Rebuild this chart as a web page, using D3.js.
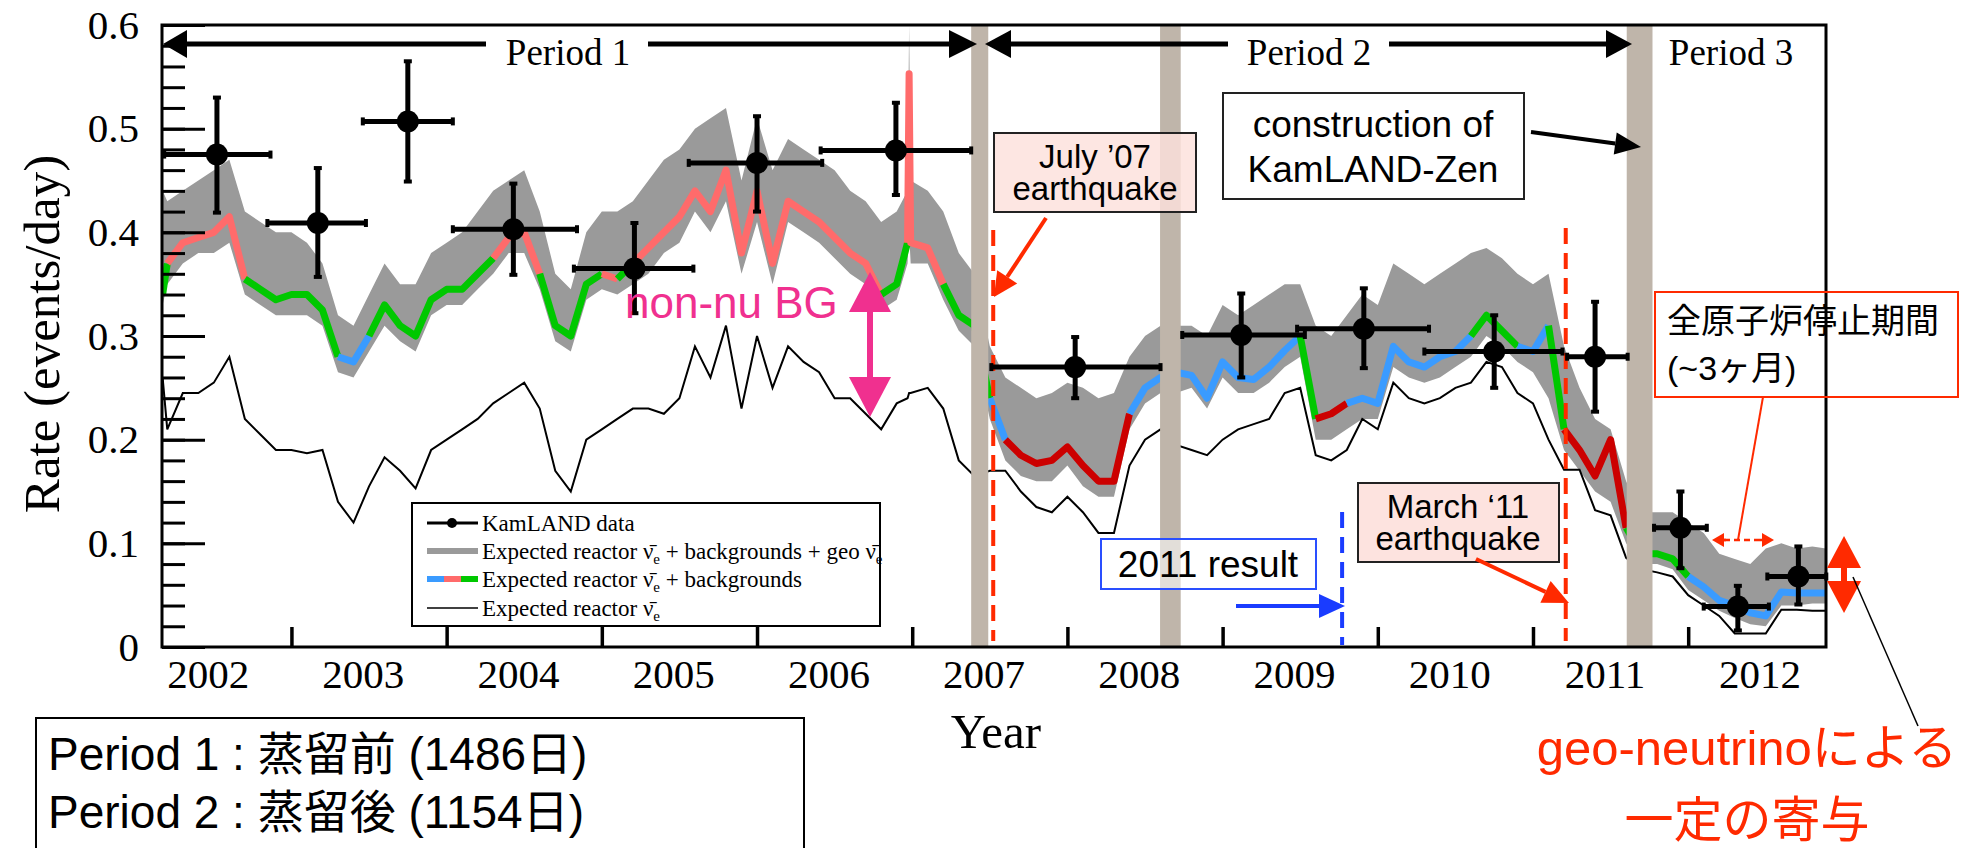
<!DOCTYPE html>
<html>
<head>
<meta charset="utf-8">
<script src="https://cdn.jsdelivr.net/npm/d3@7"></script>
<style>
  body { margin: 0; background: #fff; }
  svg { display: block; }
</style>
</head>
<body>
<script>
// ---- data ----
// time (decimal year)
const years = [2002.17, 2002.2, 2002.3, 2002.4, 2002.5, 2002.6, 2002.7, 2002.8, 2002.9,
  2003.0, 2003.1, 2003.2, 2003.3, 2003.4, 2003.5, 2003.6, 2003.7, 2003.8, 2003.9,
  2004.0, 2004.1, 2004.2, 2004.3, 2004.4, 2004.5, 2004.6, 2004.7, 2004.8, 2004.9,
  2005.0, 2005.1, 2005.2, 2005.3, 2005.4, 2005.5, 2005.6, 2005.7, 2005.8, 2005.9,
  2006.0, 2006.1, 2006.2, 2006.3, 2006.4, 2006.5, 2006.6, 2006.7, 2006.8, 2006.9,
  2006.97, 2006.98, 2006.99, 2007.1, 2007.2, 2007.3, 2007.4, 2007.5, 2007.6, 2007.7,
  2007.8, 2007.9, 2008.0, 2008.1, 2008.2, 2008.3, 2008.4, 2008.5, 2008.6, 2008.7,
  2008.8, 2008.9, 2009.0, 2009.1, 2009.2, 2009.3, 2009.4, 2009.5, 2009.6, 2009.7,
  2009.8, 2009.9, 2010.0, 2010.1, 2010.2, 2010.3, 2010.4, 2010.5, 2010.6, 2010.7,
  2010.8, 2010.9, 2011.0, 2011.1, 2011.2, 2011.3, 2011.4, 2011.5, 2011.6, 2011.7,
  2011.8, 2011.9, 2012.0, 2012.1, 2012.2, 2012.3, 2012.4, 2012.5, 2012.6, 2012.7,
  2012.8, 2012.888];

// Expected reactor only (thin black)
const reactorOnly = [0.26, 0.21, 0.245, 0.245, 0.255, 0.28, 0.22, 0.205, 0.19,
  0.19, 0.187, 0.19, 0.14, 0.12, 0.155, 0.183, 0.17, 0.153, 0.19,
  0.20, 0.21, 0.22, 0.235, 0.245, 0.255, 0.23, 0.17, 0.15, 0.20,
  0.21, 0.22, 0.23, 0.23, 0.225, 0.24, 0.29, 0.26, 0.31, 0.23,
  0.30, 0.25, 0.29, 0.275, 0.265, 0.24, 0.24, 0.225, 0.21, 0.235,
  0.24, 0.245, 0.245, 0.25, 0.23, 0.18, 0.165, 0.17, 0.17, 0.15,
  0.135, 0.13, 0.145, 0.13, 0.11, 0.11, 0.175, 0.20, 0.21, 0.195,
  0.19, 0.185, 0.20, 0.21, 0.215, 0.22, 0.245, 0.25, 0.185, 0.18,
  0.19, 0.22, 0.21, 0.255, 0.24, 0.235, 0.24, 0.25, 0.255, 0.275,
  0.27, 0.245, 0.235, 0.20, 0.171, 0.171, 0.132, 0.127, 0.086, 0.075,
  0.072, 0.068, 0.05, 0.04, 0.03, 0.013, 0.013, 0.013, 0.036, 0.036,
  0.035, 0.035];

// Expected reactor + backgrounds (thick coloured)
const withBg = [0.34, 0.37, 0.39, 0.395, 0.40, 0.415, 0.355, 0.345, 0.335,
  0.34, 0.34, 0.325, 0.28, 0.275, 0.30, 0.33, 0.31, 0.30, 0.335,
  0.345, 0.345, 0.36, 0.375, 0.395, 0.40, 0.36, 0.31, 0.30, 0.35,
  0.36, 0.355, 0.37, 0.385, 0.40, 0.415, 0.44, 0.42, 0.46, 0.38,
  0.44, 0.37, 0.43, 0.42, 0.41, 0.395, 0.38, 0.37, 0.34, 0.35,
  0.39, 0.553, 0.39, 0.385, 0.35, 0.32, 0.31, 0.24, 0.20, 0.185,
  0.177, 0.18, 0.193, 0.175, 0.16, 0.16, 0.225, 0.25, 0.26, 0.265,
  0.262, 0.24, 0.275, 0.26, 0.258, 0.27, 0.286, 0.30, 0.22, 0.225,
  0.235, 0.24, 0.235, 0.29, 0.275, 0.27, 0.28, 0.285, 0.30, 0.32,
  0.305, 0.29, 0.285, 0.31, 0.21, 0.19, 0.165, 0.20, 0.115, 0.09,
  0.09, 0.085, 0.068, 0.058, 0.045, 0.04, 0.033, 0.03, 0.053, 0.052,
  0.052, 0.052];

// colour class of the coloured line: R salmon, G green, B blue, D dark red
const bgCat = ["G", "R", "R", "R", "R", "R", "G", "G", "G",
  "G", "G", "G", "B", "B", "G", "G", "G", "G", "G",
  "G", "G", "G", "R", "R", "R", "G", "G", "G", "G",
  "R", "G", "R", "R", "R", "R", "R", "R", "R", "R",
  "R", "R", "R", "R", "R", "R", "R", "R", "G", "G",
  "R", "R", "R", "R", "G", "G", "G", "B", "D", "D",
  "D", "D", "D", "D", "D", "D", "B", "B", "B", "B",
  "B", "B", "B", "B", "B", "B", "B", "G", "D", "D",
  "B", "B", "B", "B", "B", "B", "B", "B", "G", "G",
  "G", "B", "B", "G", "D", "D", "D", "D", "G", "G",
  "G", "G", "B", "B", "B", "B", "B", "B", "B", "B",
  "B", "B"];

// Expected reactor + backgrounds + geo (grey band, low / high edge)
const greyLo = [0.33, 0.35, 0.37, 0.38, 0.38, 0.39, 0.34, 0.33, 0.32,
  0.32, 0.32, 0.31, 0.265, 0.26, 0.285, 0.31, 0.295, 0.285, 0.32,
  0.33, 0.33, 0.345, 0.36, 0.38, 0.38, 0.345, 0.295, 0.285, 0.335,
  0.345, 0.34, 0.35, 0.36, 0.38, 0.39, 0.42, 0.40, 0.43, 0.36,
  0.41, 0.35, 0.41, 0.40, 0.39, 0.375, 0.36, 0.35, 0.325, 0.335,
  0.37, 0.40, 0.37, 0.37, 0.335, 0.305, 0.29, 0.22, 0.18, 0.165,
  0.16, 0.16, 0.175, 0.155, 0.145, 0.145, 0.21, 0.235, 0.245, 0.245,
  0.25, 0.23, 0.26, 0.245, 0.245, 0.255, 0.27, 0.28, 0.20, 0.20,
  0.21, 0.22, 0.22, 0.27, 0.26, 0.255, 0.26, 0.27, 0.28, 0.30,
  0.29, 0.275, 0.265, 0.24, 0.19, 0.17, 0.15, 0.14, 0.10, 0.08,
  0.08, 0.075, 0.055, 0.045, 0.035, 0.028, 0.022, 0.02, 0.04, 0.04,
  0.042, 0.042];
const greyHi = [0.44, 0.43, 0.44, 0.45, 0.46, 0.47, 0.42, 0.41, 0.40,
  0.40, 0.39, 0.37, 0.32, 0.31, 0.34, 0.37, 0.35, 0.35, 0.38,
  0.39, 0.40, 0.42, 0.44, 0.45, 0.46, 0.42, 0.36, 0.345, 0.40,
  0.42, 0.42, 0.43, 0.45, 0.47, 0.48, 0.50, 0.51, 0.52, 0.45,
  0.51, 0.46, 0.49, 0.48, 0.47, 0.46, 0.44, 0.43, 0.41, 0.42,
  0.44, 0.60, 0.45, 0.44, 0.42, 0.38, 0.36, 0.29, 0.26, 0.25,
  0.24, 0.245, 0.255, 0.25, 0.24, 0.245, 0.28, 0.30, 0.31, 0.31,
  0.31, 0.30, 0.33, 0.32, 0.33, 0.34, 0.35, 0.35, 0.31, 0.30,
  0.32, 0.34, 0.33, 0.37, 0.36, 0.35, 0.36, 0.37, 0.38, 0.385,
  0.375, 0.36, 0.35, 0.36, 0.29, 0.25, 0.22, 0.21, 0.16, 0.13,
  0.13, 0.13, 0.12, 0.11, 0.09, 0.085, 0.08, 0.095, 0.10, 0.095,
  0.097, 0.095];

// KamLAND data points
const dataX   = [2002.52, 2003.17, 2003.75, 2004.43, 2005.21, 2006.00, 2006.895,
  2008.05, 2009.12, 2009.91, 2010.75, 2011.40, 2011.95, 2012.32, 2012.71];
const dataXLo = [2002.18, 2002.845, 2003.46, 2004.04, 2004.82, 2005.56, 2006.41,
  2007.51, 2008.74, 2009.48, 2010.30, 2011.22, 2011.78, 2012.10, 2012.51];
const dataXHi = [2002.865, 2003.48, 2004.04, 2004.84, 2005.59, 2006.42, 2007.38,
  2008.60, 2009.53, 2010.33, 2011.19, 2011.61, 2012.12, 2012.52, 2012.89];
const dataY   = [0.475, 0.409, 0.507, 0.403, 0.365, 0.467, 0.479,
  0.270, 0.301, 0.307, 0.285, 0.280, 0.115, 0.039, 0.068];
const dataYLo = [0.419, 0.357, 0.449, 0.359, 0.322, 0.420, 0.436,
  0.240, 0.260, 0.269, 0.250, 0.227, 0.076, 0.016, 0.041];
const dataYHi = [0.530, 0.462, 0.565, 0.447, 0.409, 0.512, 0.525,
  0.299, 0.341, 0.346, 0.320, 0.333, 0.150, 0.059, 0.097];

// vertical grey bands (distillation / KamLAND-Zen construction)
const bandStart = [2007.38, 2008.597, 2011.604];
const bandEnd   = [2007.49, 2008.73, 2011.77];
const quakeJuly07 = 2007.522;
const quakeMarch11 = 2011.211;
const result2011 = 2009.77;

// axes
const yearTicks = [2003, 2004, 2005, 2006, 2007, 2008, 2009, 2010, 2011, 2012];
const yearLabels = [2002, 2003, 2004, 2005, 2006, 2007, 2008, 2009, 2010, 2011, 2012];
const yMajor = [0, 0.1, 0.2, 0.3, 0.4, 0.5, 0.6];

// ---- drawing ----
const serif = "'Liberation Serif', 'Times New Roman', serif";
const sans = "'Liberation Sans', Arial, 'Noto Sans CJK JP', sans-serif";
const RED = "#ff2a00";
const catColor = { R: "#ff6b6b", G: "#00c800", B: "#3a9bff", D: "#cc0000" };

const svg = d3.select("body").append("svg")
    .attr("width", 1966)
    .attr("height", 848);

const x = d3.scaleLinear().domain([2002.166, 2012.888]).range([162, 1826]);
const y = d3.scaleLinear().domain([0, 0.6]).range([647, 25]);

svg.append("clipPath").attr("id", "plotClip")
  .append("rect")
    .attr("x", x.range()[0]).attr("y", y.range()[1])
    .attr("width", x.range()[1] - x.range()[0])
    .attr("height", y.range()[0] - y.range()[1]);

const plot = svg.append("g").attr("clip-path", "url(#plotClip)");
const idx = d3.range(years.length);

// grey band : reactor + bkg + geo
plot.append("path")
    .attr("d", d3.area()
        .x(i => x(years[i]))
        .y0(i => y(greyLo[i]))
        .y1(i => y(greyHi[i]))(idx))
    .attr("fill", "#9a9a9a");

// coloured line : reactor + bkg, split into runs of the same colour
let runs = [];
for (let i = 0; i < years.length - 1; i++) {
    const last = runs[runs.length - 1];
    if (last && last.c === bgCat[i]) last.pts.push(i + 1);
    else runs.push({ c: bgCat[i], pts: [i, i + 1] });
}
const colLine = d3.line().x(i => x(years[i])).y(i => y(withBg[i]));
runs.forEach(r => {
    plot.append("path")
        .attr("d", colLine(r.pts))
        .attr("fill", "none")
        .attr("stroke", catColor[r.c])
        .attr("stroke-width", 7)
        .attr("stroke-linejoin", "round");
});

// thin black : reactor only
plot.append("path")
    .attr("d", d3.line()
        .x(i => x(years[i])).y(i => y(reactorOnly[i]))(idx))
    .attr("fill", "none")
    .attr("stroke", "#000")
    .attr("stroke-width", 2);

// brownish-grey bands
bandStart.forEach((b, i) => {
    svg.append("rect")
        .attr("x", x(b)).attr("y", y(0.6) - 1)
        .attr("width", x(bandEnd[i]) - x(b))
        .attr("height", y(0) - y(0.6) + 1)
        .attr("fill", "#bfb5aa");
});

// dashed event lines
function dashed(xv, y1, y2, color) {
    svg.append("line")
        .attr("x1", x(xv)).attr("x2", x(xv))
        .attr("y1", y1).attr("y2", y2)
        .attr("stroke", color).attr("stroke-width", 4)
        .attr("stroke-dasharray", "16,9");
}
dashed(quakeJuly07, 230, 641, RED);
dashed(quakeMarch11, 228, 641, RED);
dashed(result2011, 512, 645, "#1a3cff");

// data points
const pts = svg.append("g");
dataX.forEach((d, i) => {
    pts.append("line")
        .attr("x1", x(dataXLo[i])).attr("x2", x(dataXHi[i]))
        .attr("y1", y(dataY[i])).attr("y2", y(dataY[i]))
        .attr("stroke", "#000").attr("stroke-width", 5);
    pts.append("line")
        .attr("x1", x(d)).attr("x2", x(d))
        .attr("y1", y(dataYLo[i])).attr("y2", y(dataYHi[i]))
        .attr("stroke", "#000").attr("stroke-width", 5);
    [dataYLo[i], dataYHi[i]].forEach(v => {
        pts.append("rect").attr("x", x(d) - 4).attr("y", y(v) - 2)
            .attr("width", 8).attr("height", 4).attr("fill", "#000");
    });
    [dataXLo[i], dataXHi[i]].forEach(v => {
        pts.append("rect").attr("x", x(v) - 2).attr("y", y(dataY[i]) - 4)
            .attr("width", 4).attr("height", 8).attr("fill", "#000");
    });
    pts.append("circle")
        .attr("cx", x(d)).attr("cy", y(dataY[i])).attr("r", 11)
        .attr("fill", "#000");
});

// ---- axes ----
const yMinor = svg.append("g")
    .attr("transform", "translate(" + x.range()[0] + ",0)")
    .call(d3.axisLeft(y).tickValues(d3.range(0, 0.601, 0.02)).tickSize(-23).tickFormat(""));
const yAxis = svg.append("g")
    .attr("transform", "translate(" + x.range()[0] + ",0)")
    .call(d3.axisLeft(y).tickValues(yMajor).tickSize(-43).tickPadding(23)
        .tickFormat(d => d === 0 ? "0" : d3.format(".1f")(d)));
[yMinor, yAxis].forEach(a => {
    a.select(".domain").remove();
    a.selectAll("line").attr("stroke-width", 3);
});
yAxis.attr("font-family", null);
yAxis.selectAll("text").style("font-family", serif).style("font-size", "41px").attr("fill", "#000");

const xTicksG = svg.append("g")
    .attr("transform", "translate(0," + y(0) + ")")
    .call(d3.axisBottom(x).tickValues(yearTicks).tickSize(-20).tickFormat(""));
xTicksG.select(".domain").remove();
xTicksG.selectAll("line").attr("stroke-width", 3.5);

const xLab = svg.append("g")
    .attr("transform", "translate(0," + y(0) + ")")
    .call(d3.axisBottom(x).tickValues(yearLabels.map(v => v + 0.46)).tickSize(0).tickPadding(12)
        .tickFormat(d => String(Math.round(d - 0.46))));
xLab.select(".domain").remove();
xLab.attr("font-family", null);
xLab.selectAll("text").style("font-family", serif).style("font-size", "41px").attr("fill", "#000");

// frame
svg.append("rect")
    .attr("x", x.range()[0]).attr("y", y(0.6))
    .attr("width", x.range()[1] - x.range()[0])
    .attr("height", y(0) - y(0.6))
    .attr("fill", "none").attr("stroke", "#000").attr("stroke-width", 3);

svg.append("text")
    .attr("transform", "translate(42,334) rotate(-90)")
    .attr("text-anchor", "middle").attr("dominant-baseline", "central")
    .attr("font-family", serif).attr("font-size", 51)
    .text("Rate (events/day)");

svg.append("text")
    .attr("x", 996).attr("y", 748)
    .attr("text-anchor", "middle")
    .attr("font-family", serif).attr("font-size", 49)
    .text("Year");

// ---- arrows and annotations ----
function arrow(g, x1, y1, x2, y2, color, w, hl, hw) {
    const a = Math.atan2(y2 - y1, x2 - x1);
    const bx = x2 - hl * Math.cos(a), by = y2 - hl * Math.sin(a);
    g.append("line")
        .attr("x1", x1).attr("y1", y1).attr("x2", bx).attr("y2", by)
        .attr("stroke", color).attr("stroke-width", w);
    const px = -Math.sin(a) * hw, py = Math.cos(a) * hw;
    g.append("path")
        .attr("d", "M" + x2 + "," + y2 + "L" + (bx + px) + "," + (by + py) +
            "L" + (bx - px) + "," + (by - py) + "Z")
        .attr("fill", color);
}
const ann = svg.append("g");

// period arrows
arrow(ann, 486, 44, 163, 44, "#000", 5, 24, 14);
arrow(ann, 648, 44, 977, 44, "#000", 5, 28, 14);
arrow(ann, 1228, 44, 985, 44, "#000", 5, 26, 14);
arrow(ann, 1389, 44, 1632, 44, "#000", 5, 26, 14);
[["Period 1", 568], ["Period 2", 1309], ["Period 3", 1731]].forEach(p => {
    ann.append("text").attr("x", p[1]).attr("y", 65)
        .attr("text-anchor", "middle")
        .attr("font-family", serif).attr("font-size", 37)
        .text(p[0]);
});

// non-nu BG
ann.append("text").attr("x", 625).attr("y", 318)
    .attr("font-family", sans).attr("font-size", 44).attr("fill", "#f0308f")
    .text("non-nu BG");
arrow(ann, 870, 345, 870, 272, "#f0308f", 6, 40, 21);
arrow(ann, 870, 344, 870, 417, "#f0308f", 6, 40, 21);

// text box helper
function box(x0, y0, w, h, fill, fop, stroke) {
    ann.append("rect").attr("x", x0).attr("y", y0).attr("width", w).attr("height", h)
        .attr("fill", fill).attr("fill-opacity", fop)
        .attr("stroke", stroke).attr("stroke-width", 2);
}
function lines(cx, ys, txts, size, color, anchor) {
    txts.forEach((t, i) => {
        ann.append("text").attr("x", cx).attr("y", ys[i])
            .attr("text-anchor", anchor || "middle")
            .attr("font-family", sans).attr("font-size", size)
            .attr("fill", color || "#000")
            .text(t);
    });
}

// July '07 earthquake
box(994, 133, 202, 79, "#fde0dc", 0.82, "#222");
lines(1095, [168, 200], ["July \u201907", "earthquake"], 33);
arrow(ann, 1046, 218, 994, 297, RED, 4, 24, 12);

// construction of KamLAND-Zen
box(1223, 93, 301, 106, "#fff", 1, "#222");
lines(1373, [137, 182], ["construction of", "KamLAND-Zen"], 37);
arrow(ann, 1531, 132, 1641, 147, "#000", 4, 26, 11);

// 2011 result
box(1101, 539, 215, 50, "#fff", 0.55, "#2a4fff");
lines(1208, [577], ["2011 result"], 37);
arrow(ann, 1236, 606, 1345, 606, "#1a3cff", 4, 26, 12);

// March '11 earthquake
box(1358, 483, 201, 79, "#fde0dc", 0.9, "#222");
lines(1458, [518, 550], ["March \u201811", "earthquake"], 33);
arrow(ann, 1476, 559, 1569, 603, RED, 4, 26, 12);

// reactor shutdown box
box(1655, 292, 303, 105, "none", 0, RED);
lines(1667, [333, 380], ["全原子炉停止期間", "(~3ヶ月)"], 34, "#000", "start");
ann.append("line").attr("x1", 1763).attr("y1", 397).attr("x2", 1738).attr("y2", 540)
    .attr("stroke", RED).attr("stroke-width", 2);
ann.append("line").attr("x1", 1724).attr("y1", 540).attr("x2", 1762).attr("y2", 540)
    .attr("stroke", RED).attr("stroke-width", 2.5).attr("stroke-dasharray", "6,4");
arrow(ann, 1726, 540, 1712, 540, RED, 2.5, 12, 7);
arrow(ann, 1760, 540, 1774, 540, RED, 2.5, 12, 7);

// geo-neutrino contribution
arrow(ann, 1844, 575, 1844, 536, RED, 6, 32, 17);
arrow(ann, 1844, 574, 1844, 613, RED, 6, 32, 17);
ann.append("line").attr("x1", 1853).attr("y1", 577).attr("x2", 1918).attr("y2", 726)
    .attr("stroke", "#000").attr("stroke-width", 1.5);
lines(1747, [765, 837], ["geo-neutrinoによる", "一定の寄与"], 49, RED);

// period summary box (runs off the bottom)
box(36, 718, 768, 200, "#fff", 1, "#000");
lines(48, [770, 828], ["Period 1 : 蒸留前 (1486日)", "Period 2 : 蒸留後 (1154日)"], 46, "#000", "start");

// ---- legend ----
const leg = svg.append("g");
leg.append("rect").attr("x", 412).attr("y", 503).attr("width", 468).attr("height", 123)
    .attr("fill", "#fff").attr("stroke", "#000").attr("stroke-width", 2);
const rowY = [523, 551, 579, 608];
leg.append("line").attr("x1", 427).attr("x2", 478).attr("y1", rowY[0]).attr("y2", rowY[0])
    .attr("stroke", "#000").attr("stroke-width", 3);
leg.append("circle").attr("cx", 452).attr("cy", rowY[0]).attr("r", 5).attr("fill", "#000");
leg.append("line").attr("x1", 427).attr("x2", 478).attr("y1", rowY[1]).attr("y2", rowY[1])
    .attr("stroke", "#9a9a9a").attr("stroke-width", 6);
[["B", 427, 444], ["R", 444, 461], ["G", 461, 478]].forEach(s => {
    leg.append("line").attr("x1", s[1]).attr("x2", s[2]).attr("y1", rowY[2]).attr("y2", rowY[2])
        .attr("stroke", catColor[s[0]]).attr("stroke-width", 6);
});
leg.append("line").attr("x1", 427).attr("x2", 478).attr("y1", rowY[3]).attr("y2", rowY[3])
    .attr("stroke", "#000").attr("stroke-width", 1.5);

// "NU" stands for anti-electron-neutrino
const legendRows = [
    ["KamLAND data"],
    ["Expected reactor ", "NU", " + backgrounds + geo ", "NU"],
    ["Expected reactor ", "NU", " + backgrounds"],
    ["Expected reactor ", "NU"]
];
legendRows.forEach((parts, r) => {
    const t = leg.append("text").attr("x", 482).attr("y", rowY[r] + 8)
        .attr("font-family", serif).attr("font-size", 23);
    let shifted = false;
    parts.forEach(p => {
        if (p === "NU") {
            t.append("tspan").attr("dy", shifted ? -5 : null).text("\u03BD\u0304");
            t.append("tspan").attr("dy", 5).attr("font-size", 15).text("e");
            shifted = true;
        } else {
            t.append("tspan").attr("dy", shifted ? -5 : null).text(p);
            shifted = false;
        }
    });
});
</script>
</body>
</html>
